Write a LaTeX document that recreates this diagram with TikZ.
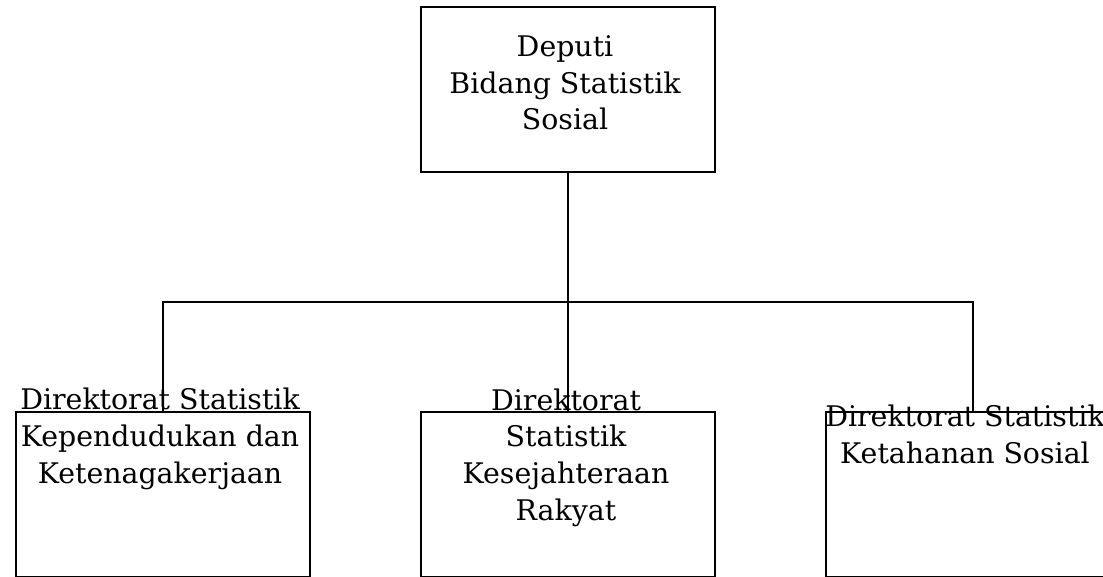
\documentclass[tikz,border=0pt]{standalone}
\usepackage{fontspec}
\setmainfont{DejaVu Serif}
\tikzset{
  unitbox/.style={draw, line width=0.8pt, minimum width=220.5pt, minimum height=123.75pt, inner sep=0pt},
  unitname/.style={align=center, inner sep=0pt, anchor=base, font=\fontsize{21.3}{27.5}\selectfont}
}
\begin{document}
\begin{tikzpicture}[x=0.75pt,y=-0.75pt]
			\useasboundingbox (0,0) rectangle (1103,577);
			\clip (0,0) rectangle (1103,577);
			\draw (568,89.5) node[unitbox] (deputi) {};
			\draw (163,494.5) node[unitbox] (kependudukan) {};
			\draw (568,494.5) node[unitbox] (kesejahteraan) {};
			\draw (973,494.5) node[unitbox] (ketahanan) {};
			\coordinate (bus) at (568,302);

			% anchor=base sits on the last line
			\node[unitname] (deputiText) at (565,130) {Deputi\\Bidang Statistik\\Sosial};
			\node[unitname] (kependudukanText) at (160,483) {Direktorat Statistik\\Kependudukan dan\\Ketenagakerjaan};
			\node[unitname] (kesejahteraanText) at (566,520) {Direktorat\\Statistik\\Kesejahteraan\\Rakyat};
			\node[unitname] (ketahananText) at (965,463) {Direktorat Statistik\\Ketahanan Sosial};

			\draw[line width=0.8pt] (deputi.south) -- (kesejahteraan.north);
			\draw[line width=0.8pt] (kependudukan.north) -- (kependudukan.north |- bus)
				-- (ketahanan.north |- bus) -- (ketahanan.north);
		\end{tikzpicture}
\end{document}
